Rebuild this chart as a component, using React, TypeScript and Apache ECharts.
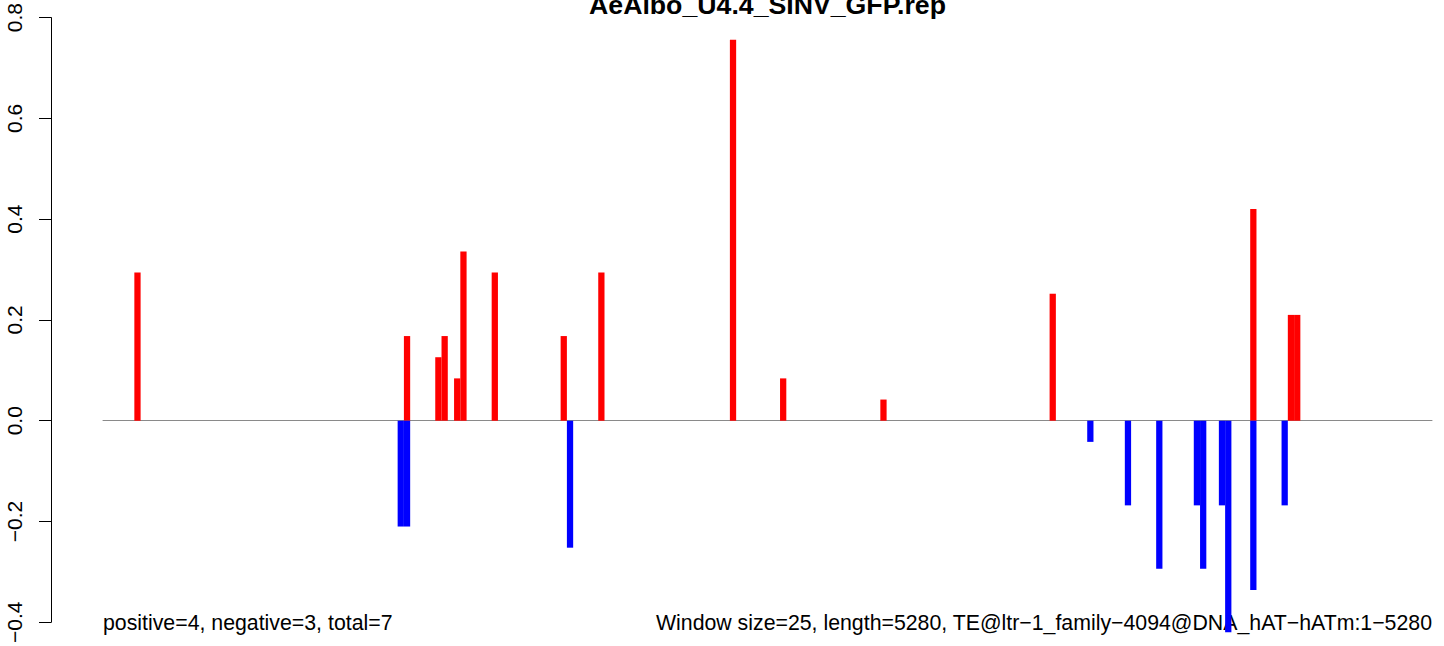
import React, { useEffect, useRef } from "react";
import * as echarts from "echarts";

const nWindows = 212;
const posWindows = [5, 48, 53, 54, 56, 57, 62, 73, 79, 100, 108, 124, 151, 183, 189, 190];
const posValues = [0.294, 0.168, 0.126, 0.168, 0.084, 0.336, 0.294, 0.168, 0.294, 0.756, 0.084, 0.042, 0.252, 0.42, 0.21, 0.21];
const negWindows = [47, 48, 74, 157, 163, 168, 174, 175, 178, 179, 183, 188];
const negValues = [-0.21, -0.21, -0.252, -0.042, -0.168, -0.294, -0.168, -0.294, -0.168, -0.42, -0.336, -0.168];
const yTicks = [-0.4, -0.2, 0, 0.2, 0.4, 0.6, 0.8];
const titleText = "AeAlbo_U4.4_SINV_GFP.rep";
const leftNote = "positive=4, negative=3, total=7";
const rightNote = "Window size=25, length=5280, TE@ltr\u22121_family\u22124094@DNA_hAT\u2212hATm:1\u22125280";

const FONT = '"Liberation Sans", Arial, Helvetica, sans-serif';

function buildSeries(wins: number[], vals: number[]) {
  const arr: (number | null)[] = new Array(nWindows).fill(null);
  wins.forEach((w, i) => {
    arr[w] = vals[i];
  });
  return arr;
}

function fmt(v: number) {
  if (Math.abs(v) < 1e-9) return "0.0";
  return (v < 0 ? "\u2212" : "") + Math.abs(v).toFixed(1);
}

export default function App() {
  const ref = useRef<HTMLDivElement>(null);
  useEffect(() => {
    if (!ref.current) return;
    const chart = echarts.init(ref.current, undefined, { renderer: "svg" });
    const categories = Array.from({ length: nWindows }, (_, i) => String(i));
    const interval = yTicks[1] - yTicks[0];
    chart.setOption({
      animation: false,
      backgroundColor: "#ffffff",
      grid: { left: 103, right: 12, top: 15, bottom: 22, containLabel: false },
      xAxis: {
        type: "category",
        data: categories,
        boundaryGap: true,
        axisLine: { show: true, onZero: true, lineStyle: { color: "#8a8a8a", width: 1 } },
        axisTick: { show: false },
        axisLabel: { show: false },
        splitLine: { show: false },
      },
      yAxis: {
        type: "value",
        min: yTicks[0],
        max: yTicks[yTicks.length - 1],
        interval: interval,
        offset: 52,
        axisLine: { show: true, lineStyle: { color: "#000", width: 1 } },
        axisTick: { show: true, length: 12, lineStyle: { color: "#000", width: 1 } },
        axisLabel: {
          rotate: 90,
          margin: 26,
          fontSize: 21,
          color: "#000",
          fontFamily: FONT,
          formatter: (v: number) => fmt(v),
        },
        splitLine: { show: false },
      },
      series: [
        {
          type: "bar",
          name: "positive",
          data: buildSeries(posWindows, posValues),
          barCategoryGap: "0%",
          barGap: "-100%",
          itemStyle: { color: "#ff0000" },
          clip: false,
        },
        {
          type: "bar",
          name: "negative",
          data: buildSeries(negWindows, negValues),
          barCategoryGap: "0%",
          barGap: "-100%",
          itemStyle: { color: "#0000ff" },
          clip: false,
        },
      ],
      graphic: [
        {
          type: "text",
          x: 767.5,
          y: 4.75,
          style: {
            text: titleText,
            font: `bold 26.7px ${FONT}`,
            fill: "#000",
            textAlign: "center",
            textVerticalAlign: "middle",
          },
        },
        {
          type: "text",
          x: 103,
          y: 622.6,
          style: {
            text: leftNote,
            font: `21.3px ${FONT}`,
            fill: "#000",
            textAlign: "left",
            textVerticalAlign: "middle",
          },
        },
        {
          type: "text",
          x: 1432,
          y: 622.6,
          style: {
            text: rightNote,
            font: `21.3px ${FONT}`,
            fill: "#000",
            textAlign: "right",
            textVerticalAlign: "middle",
          },
        },
      ],
    });
    return () => chart.dispose();
  }, []);
  return (
    <div
      ref={ref}
      style={{ position: "fixed", left: 0, top: 0, width: 1444, height: 646 }}
    />
  );
}
